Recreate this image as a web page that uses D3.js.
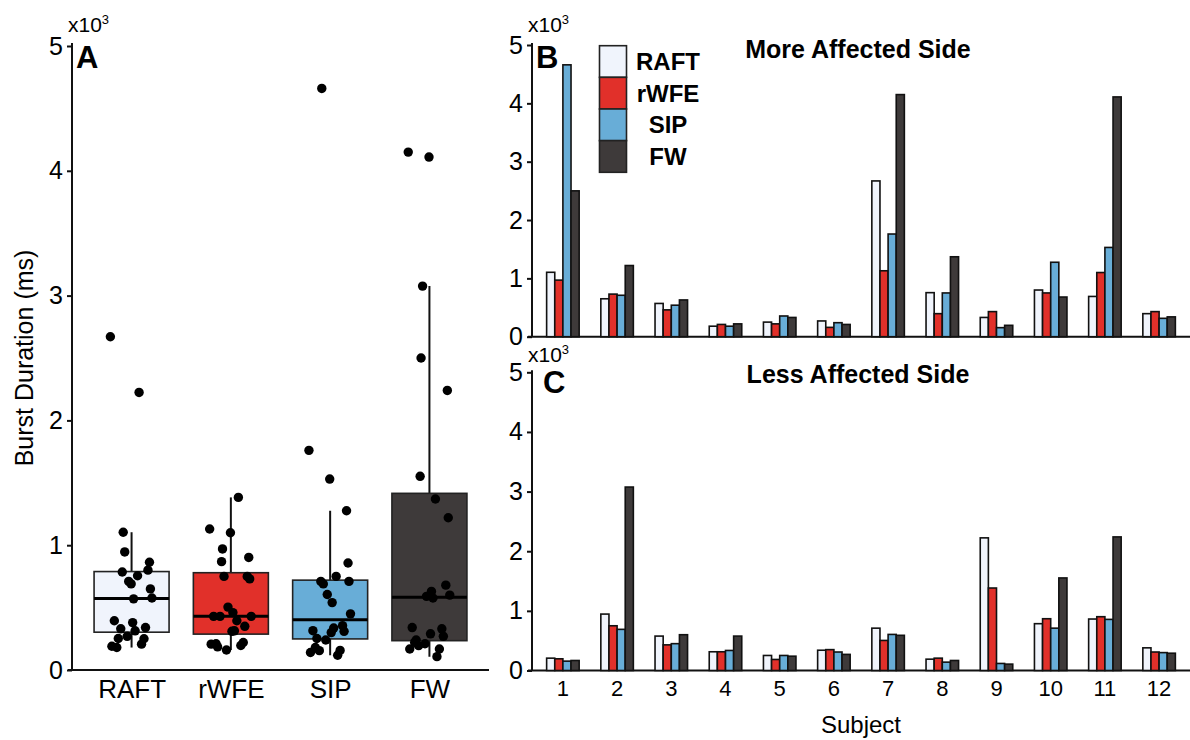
<!DOCTYPE html>
<html>
<head>
<meta charset="utf-8">
<script src="https://cdn.jsdelivr.net/npm/d3@7"></script>
<style>
    body { margin: 0; background: #fff; }
    text { font-family: "Liberation Sans", Arial, sans-serif; fill: #000; }
</style>
</head>
<body>
<script>
// conditions and subjects
var groups   = ['RAFT', 'rWFE', 'SIP', 'FW'];
var subjects = ['1', '2', '3', '4', '5', '6', '7', '8', '9', '10', '11', '12'];
var colors   = ['#F0F4FC', '#E1302A', '#68ADD7', '#3E3A3A'];

// burst duration (ms) per subject, more affected side
var moreRAFT = [1104, 650, 570, 180, 250, 270, 2670, 755, 330, 800, 690, 395];
var moreRWFE = [970, 730, 460, 210, 220, 160, 1130, 395, 430, 750, 1100, 430];
var moreSIP  = [4660, 710, 540, 180, 355, 240, 1760, 750, 155, 1276, 1530, 315];
var moreFW   = [2500, 1220, 630, 220, 330, 210, 4150, 1370, 195, 680, 4110, 340];

// burst duration (ms) per subject, less affected side
var lessRAFT = [207, 946, 577, 314, 252, 340, 710, 190, 2224, 785, 863, 380];
var lessRWFE = [196, 750, 430, 314, 185, 350, 504, 207, 1383, 868, 902, 310];
var lessSIP  = [157, 690, 450, 336, 252, 310, 605, 140, 118, 710, 857, 300];
var lessFW   = [168, 3076, 600, 577, 240, 270, 590, 168, 107, 1552, 2240, 290];

var yTicks = [0, 1000, 2000, 3000, 4000, 5000];

var more = [moreRAFT, moreRWFE, moreSIP, moreFW];
var less = [lessRAFT, lessRWFE, lessSIP, lessFW];

var svg = d3.select('body').append('svg')
    .attr('width', 1190)
    .attr('height', 740);

function styleAxis(g, size) {
    g.select('.domain').attr('stroke', '#111').attr('stroke-width', 2);
    g.selectAll('.tick line').attr('stroke', '#111').attr('stroke-width', 2);
    g.selectAll('.tick text')
        .attr('font-size', size)
        .attr('font-family', '"Liberation Sans", Arial, sans-serif')
        .attr('fill', '#000');
}

function exponent(x, y) {
    var t = svg.append('text').attr('x', x).attr('y', y).attr('font-size', 21);
    t.append('tspan').text('x10');
    t.append('tspan').attr('font-size', 13).attr('dy', -8).text('3');
}

function panelLetter(x, y, s) {
    svg.append('text')
        .attr('x', x).attr('y', y)
        .attr('font-size', 31)
        .attr('font-weight', 'bold')
        .text(s);
}

// ---------- panel A : boxplots ----------
var xA = d3.scalePoint().domain(groups).range([72, 489]).padding(0.6);
var yA = d3.scaleLinear().domain([0, 5000]).range([670, 46]);
var boxW = 75;

var gA = svg.append('g');

gA.append('g')
    .attr('transform', 'translate(72,0)')
    .call(d3.axisLeft(yA).tickValues(yTicks).tickFormat(d => d / 1000).tickSize(5).tickSizeOuter(0).tickPadding(4))
    .call(g => styleAxis(g, 25))
    .call(g => g.select('.domain').attr('d', 'M0,670V43'));

gA.append('g')
    .attr('transform', 'translate(0,670)')
    .call(d3.axisBottom(xA).tickSize(0).tickPadding(10))
    .call(g => styleAxis(g, 26))
    .call(g => g.select('.domain').attr('d', 'M68,0H489'));

var boxData = groups.map((name, i) => {
    var vals = more[i].concat(less[i]).sort(d3.ascending);
    var q1  = d3.quantile(vals, 0.25);
    var med = d3.quantile(vals, 0.5);
    var q3  = d3.quantile(vals, 0.75);
    var iqr = q3 - q1;
    var hi  = d3.max(vals.filter(v => v <= q3 + 1.5 * iqr));
    var lo  = d3.min(vals.filter(v => v >= q1 - 1.5 * iqr));
    return { name: name, color: colors[i], q1: q1, med: med, q3: q3, hi: hi, lo: lo,
             pts: more[i].concat(less[i]) };
});

var box = gA.selectAll('.box').data(boxData).enter().append('g').attr('class', 'box');

box.append('line')
    .attr('x1', d => xA(d.name)).attr('x2', d => xA(d.name))
    .attr('y1', d => yA(d.lo)).attr('y2', d => yA(d.hi))
    .attr('stroke', '#111').attr('stroke-width', 2);

box.append('rect')
    .attr('x', d => xA(d.name) - boxW / 2)
    .attr('width', boxW)
    .attr('y', d => yA(d.q3))
    .attr('height', d => yA(d.q1) - yA(d.q3))
    .attr('fill', d => d.color)
    .attr('stroke', '#222').attr('stroke-width', 1.6);

box.append('line')
    .attr('x1', d => xA(d.name) - boxW / 2).attr('x2', d => xA(d.name) + boxW / 2)
    .attr('y1', d => yA(d.med)).attr('y2', d => yA(d.med))
    .attr('stroke', '#000').attr('stroke-width', 3);

// jittered points, deterministic spread
box.selectAll('circle')
    .data(d => d.pts.map((v, j) => ({ v: v, x: xA(d.name), j: j })))
    .enter().append('circle')
    .attr('cx', d => d.x + (((d.j * 0.6180339887 + 0.31) % 1) - 0.5) * 44)
    .attr('cy', d => yA(d.v))
    .attr('r', 4.7)
    .attr('fill', '#000');

svg.append('text')
    .attr('transform', 'translate(33,358) rotate(-90)')
    .attr('text-anchor', 'middle')
    .attr('font-size', 25)
    .text('Burst Duration (ms)');

exponent(68, 32);
panelLetter(76, 68, 'A');

// ---------- panels B and C : grouped bars ----------
var xS = d3.scaleBand().domain(subjects).range([532, 1190]).paddingInner(0.4).paddingOuter(0.27);
var xG = d3.scaleBand().domain(groups).range([0, xS.bandwidth()]);

function barPanel(series, y0, y5, showX) {
    var y = d3.scaleLinear().domain([0, 5000]).range([y0, y5]);
    var g = svg.append('g');

    g.append('g')
        .attr('transform', 'translate(532,0)')
        .call(d3.axisLeft(y).tickValues(yTicks).tickFormat(d => d / 1000).tickSize(5).tickSizeOuter(0).tickPadding(4))
        .call(a => styleAxis(a, 25))
        .call(a => a.select('.domain').attr('d', 'M0,' + y0 + 'V' + (y5 - 2)));

    var xAxis = d3.axisBottom(xS).tickSize(0).tickPadding(10);
    if (!showX) xAxis.tickFormat('');
    g.append('g')
        .attr('transform', 'translate(0,' + y0 + ')')
        .call(xAxis)
        .call(a => styleAxis(a, 22))
        .call(a => a.select('.domain').attr('d', 'M528,0H1190'));

    var sub = g.selectAll('.subj').data(subjects).enter().append('g')
        .attr('transform', d => 'translate(' + xS(d) + ',0)');

    sub.selectAll('rect')
        .data((d, i) => groups.map((name, k) => ({ name: name, v: series[k][i], color: colors[k] })))
        .enter().append('rect')
        .attr('x', d => xG(d.name))
        .attr('width', xG.bandwidth())
        .attr('y', d => y(d.v))
        .attr('height', d => y0 - y(d.v))
        .attr('fill', d => d.color)
        .attr('stroke', '#111').attr('stroke-width', 1.6);
}

barPanel(more, 336.7, 45, false);
barPanel(less, 670.5, 372.3, true);

exponent(528, 32);
exponent(528, 362);
panelLetter(536, 68, 'B');
panelLetter(543, 393, 'C');

svg.append('text')
    .attr('x', 858).attr('y', 58)
    .attr('text-anchor', 'middle')
    .attr('font-size', 25).attr('font-weight', 'bold')
    .text('More Affected Side');

svg.append('text')
    .attr('x', 858).attr('y', 383)
    .attr('text-anchor', 'middle')
    .attr('font-size', 25).attr('font-weight', 'bold')
    .text('Less Affected Side');

svg.append('text')
    .attr('x', 861).attr('y', 733)
    .attr('text-anchor', 'middle')
    .attr('font-size', 24)
    .text('Subject');

// legend
var legY = d3.scaleBand().domain(groups).range([45.7, 172.3]);
var leg = svg.append('g');
leg.selectAll('rect').data(groups).enter().append('rect')
    .attr('x', 599.5).attr('width', 27)
    .attr('y', d => legY(d)).attr('height', legY.bandwidth())
    .attr('fill', (d, i) => colors[i])
    .attr('stroke', '#222').attr('stroke-width', 1.6);
leg.selectAll('text').data(groups).enter().append('text')
    .attr('x', 668)
    .attr('y', d => legY(d) + legY.bandwidth() / 2 + 8.5)
    .attr('text-anchor', 'middle')
    .attr('font-size', 24).attr('font-weight', 'bold')
    .text(d => d);
</script>
</body>
</html>
